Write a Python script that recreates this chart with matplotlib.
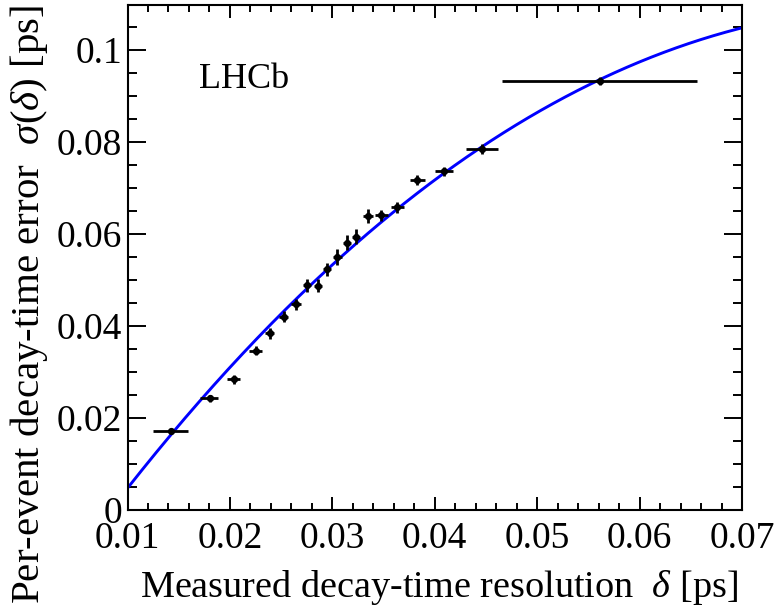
import numpy as np
import matplotlib
matplotlib.use("Agg")
import matplotlib.pyplot as plt
from matplotlib.ticker import FixedLocator, MultipleLocator

plt.rcParams['font.family'] = ['Liberation Serif', 'DejaVu Serif']
plt.rcParams['mathtext.fontset'] = 'custom'
plt.rcParams['mathtext.rm'] = 'Liberation Serif'
plt.rcParams['mathtext.it'] = 'Liberation Serif:italic'

# ---- data ----
delta = [0.0142, 0.0181, 0.0204, 0.0225, 0.0239, 0.0253, 0.0265, 0.0275, 0.0286, 0.0295,
         0.0305, 0.0314, 0.0323, 0.0335, 0.0348, 0.0363, 0.0383, 0.0409, 0.0446, 0.0561]
sigma = [0.0172, 0.0243, 0.0284, 0.0346, 0.0384, 0.0420, 0.0447, 0.0489, 0.0488, 0.0523,
         0.0550, 0.0581, 0.0594, 0.0640, 0.0641, 0.0658, 0.0717, 0.0736, 0.0785, 0.0933]
xerr_lo = [0.0017, 0.0010, 0.0007, 0.0006, 0.0005, 0.0005, 0.0005, 0.0004, 0.0004, 0.0004,
           0.0004, 0.0004, 0.0004, 0.0005, 0.0006, 0.0006, 0.0007, 0.0009, 0.0015, 0.0095]
xerr_hi = [0.0017, 0.0007, 0.0006, 0.0006, 0.0004, 0.0004, 0.0004, 0.0004, 0.0004, 0.0004,
           0.0004, 0.0004, 0.0004, 0.0005, 0.0006, 0.0007, 0.0007, 0.0009, 0.0016, 0.0095]
yerr = [0.0004, 0.0008, 0.0009, 0.0010, 0.0012, 0.0012, 0.0012, 0.0014, 0.0014, 0.0015,
        0.0018, 0.0016, 0.0016, 0.0015, 0.0012, 0.0012, 0.0011, 0.0010, 0.0010, 0.0008]

# fitted curve
curve_x = [0.0100, 0.0171, 0.0264, 0.0357, 0.0464, 0.0510, 0.0562, 0.0627, 0.0700]
curve_y = [0.0047, 0.0239, 0.0457, 0.0641, 0.0819, 0.0875, 0.0938, 0.0996, 0.1049]

xticks = [0.01, 0.02, 0.03, 0.04, 0.05, 0.06, 0.07]
xticklabels = ["0.01", "0.02", "0.03", "0.04", "0.05", "0.06", "0.07"]
yticks = [0.0, 0.02, 0.04, 0.06, 0.08, 0.10]
yticklabels = ["0", "0.02", "0.04", "0.06", "0.08", "0.1"]

# ---- figure ----
fig = plt.figure(figsize=(7.79, 6.14), dpi=100)
ax = fig.add_axes([127.5 / 779, 104 / 614, (742 - 127.5) / 779, (510 - 5) / 614])

coef = np.polyfit(curve_x, curve_y, 3)
xs = np.linspace(0.01, 0.07, 300)
ax.plot(xs, np.polyval(coef, xs), color='#0000ff', lw=2.1, zorder=2)

ax.errorbar(delta, sigma, xerr=[xerr_lo, xerr_hi], yerr=yerr, fmt='o', color='black',
            ms=4.2, elinewidth=2.0, capsize=0, zorder=3)

ax.set_xlim(0.01, 0.07)
ax.set_ylim(0.0, 0.1098)

ax.xaxis.set_major_locator(FixedLocator(xticks))
ax.set_xticklabels(xticklabels)
ax.yaxis.set_major_locator(FixedLocator(yticks))
ax.set_yticklabels(yticklabels)
ax.xaxis.set_minor_locator(MultipleLocator(0.002))
ax.yaxis.set_minor_locator(MultipleLocator(0.005))

ax.tick_params(axis='both', which='both', direction='in', top=True, right=True, width=1.4,
               labelsize=27)
ax.tick_params(axis='x', which='major', length=9.5, pad=8)
ax.tick_params(axis='x', which='minor', length=5)
ax.tick_params(axis='y', which='major', length=13, pad=4)
ax.tick_params(axis='y', which='minor', length=6.5)
for s in ax.spines.values():
    s.set_linewidth(1.5)

ax.set_xlabel(r"Measured decay-time resolution  $\delta$ [ps]", fontsize=27.5, ha='right')
ax.xaxis.set_label_coords(0.993, -0.115)
ax.text(-0.160, 1.0, r"Per-event decay-time error  $\sigma(\delta)$ [ps]", fontsize=29.5,
        rotation=90, ha='center', va='top', transform=ax.transAxes)

ax.text(0.117, 0.836, "LHCb", transform=ax.transAxes, fontsize=26, ha='left', va='baseline')

fig.savefig("out.png", dpi=100)
